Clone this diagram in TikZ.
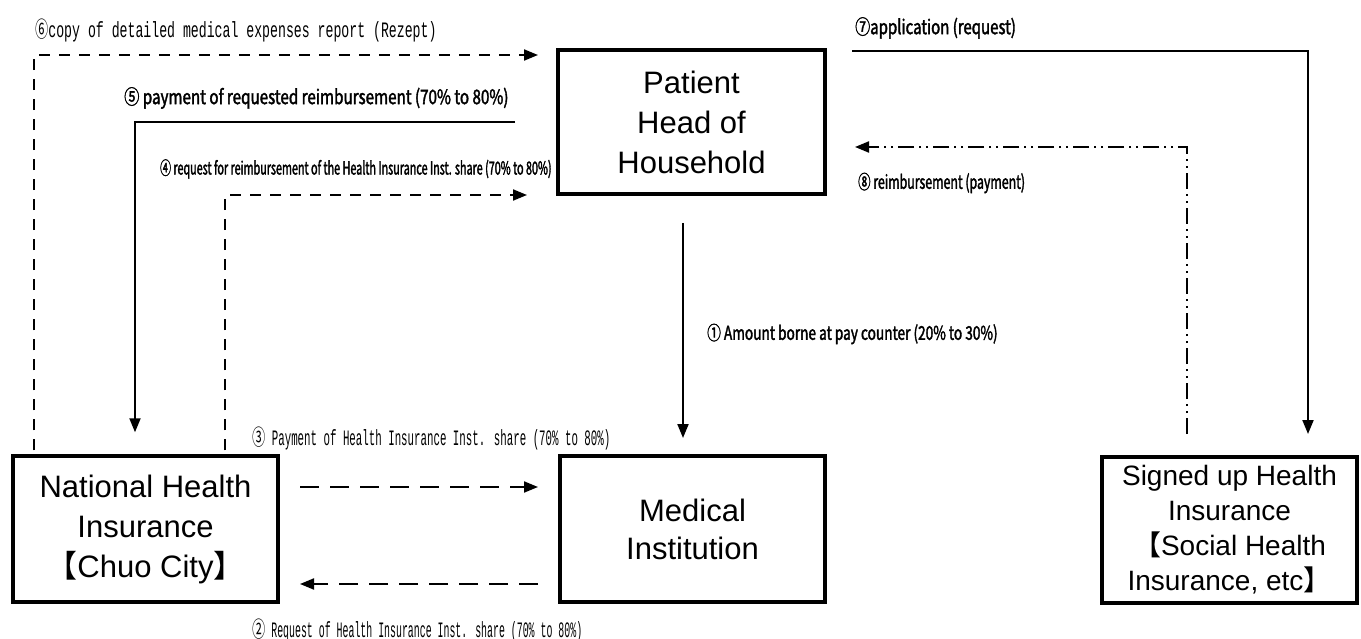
\documentclass[tikz,border=0pt]{standalone}
\usepackage{fontspec}
\setmainfont{Liberation Sans}
\newfontfamily\gothfont[FakeBold=1.8]{Noto Sans CJK JP}
\newfontfamily\minfont{Liberation Mono}
\newfontfamily\cjkfont{Noto Sans CJK JP}
\newfontfamily\circfont{Noto Sans CJK JP}
\usetikzlibrary{arrows.meta,calc}

\tikzset{
  box/.style={draw, line width=3.5pt, align=center, inner sep=0pt,
    font=\fontsize{31}{40}\selectfont},
  flow/.style={line width=2pt, -{Triangle[length=14pt,width=11pt]}},
  dashflow/.style={flow, dash pattern=on 11pt off 9pt},
  longdash/.style={flow, dash pattern=on 19pt off 11pt},
  dotflow/.style={flow, dash pattern=on 16pt off 5pt on 2pt off 5pt on 2pt off 5pt},
  lbg/.style n args={2}{anchor=west, inner sep=0pt,
    font=\gothfont\addfontfeature{FakeStretch=#2}\fontsize{#1}{#1}\selectfont},
  lbm/.style n args={2}{anchor=west, inner sep=0pt,
    font=\minfont\addfontfeature{FakeStretch=#2}\fontsize{#1}{#1}\selectfont},
}
\newcommand{\lb}[1]{{\cjkfont #1}}
\newcommand{\cn}[1]{{\circfont\addfontfeature{FakeStretch=0.6}#1}}

\begin{document}
\begin{tikzpicture}[x=1pt, y=-1pt]
\useasboundingbox (0,0) rectangle (1361,639);

% Boxes
\node[box, minimum width=267pt, minimum height=144pt] (patient) at (691.5,122)
  {Patient\\Head of\\Household};
\node[box, minimum width=265pt, minimum height=146pt] (nhi) at (145.5,529)
  {National Health\\Insurance\\\lb{【}Chuo City\lb{】}};
\node[box, minimum width=265pt, minimum height=146pt,
  font=\fontsize{31}{38}\selectfont] (medinst) at (692.5,529)
  {Medical\\Institution};
\node[box, minimum width=255pt, minimum height=146pt,
  font=\fontsize{28}{35}\selectfont] (signed) at (1229.5,530)
  {Signed up Health\\Insurance\\\lb{【}Social Health\\Insurance, etc\lb{】}};

% Free ends of the connectors
\coordinate (e6) at (538,55);
\coordinate (e4) at (527,195);
\coordinate (s5) at (515,122);
\coordinate (s1) at (683,223);
\coordinate (e1) at (683,438);
\coordinate (s7) at (852,51);
\coordinate (e7) at (1308,434);
\coordinate (s8) at (1187,434);
\coordinate (e8) at (855,147);
\coordinate (s3) at (300,487);
\coordinate (e3) at (538,487);
\coordinate (s2) at (538,584);
\coordinate (e2) at (300,584);

% Connectors
\draw[dashflow] ([xshift=23pt,yshift=4pt]nhi.north west) |- (e6);
\draw[dashflow] ([xshift=214pt,yshift=4pt]nhi.north west) |- (e4);
\draw[flow] (s5) -| ([xshift=-10.5pt,yshift=22pt]nhi.north);
\draw[flow] (s1) -- (e1);
\draw[flow] (s7) -| (e7);
\draw[dotflow] (s8) |- (e8);
\draw[longdash] (s3) -- (e3);
\draw[longdash] (s2) -- (e2);

% Labels
\node[lbm={22}{0.60}] (l6) at (35,30) {\cn{⑥}copy of detailed medical expenses report (Rezept)};
\node[lbg={20}{0.75}] (l7) at (855,28) {⑦application (request)};
\node[lbg={20}{0.76}] (l5) at (124,98) {⑤ payment of requested reimbursement (70\% to 80\%)};
\node[lbg={18}{0.60}] (l4) at (160,169) {④ request for reimbursement of the Health Insurance Inst. share (70\% to 80\%)};
\node[lbg={19}{0.65}] (l8) at (858,183) {⑧ reimbursement (payment)};
\node[lbg={19}{0.72}] (l1) at (707,334) {① Amount borne at pay counter (20\% to 30\%)};
\node[lbm={22}{0.49}] (l3) at (252,438) {\cn{③} Payment of Health Insurance Inst. share (70\% to 80\%)};
\node[lbm={22}{0.45}] (l2) at (252,630) {\cn{②} Request of Health Insurance Inst. share (70\% to 80\%)};
\end{tikzpicture}
\end{document}
